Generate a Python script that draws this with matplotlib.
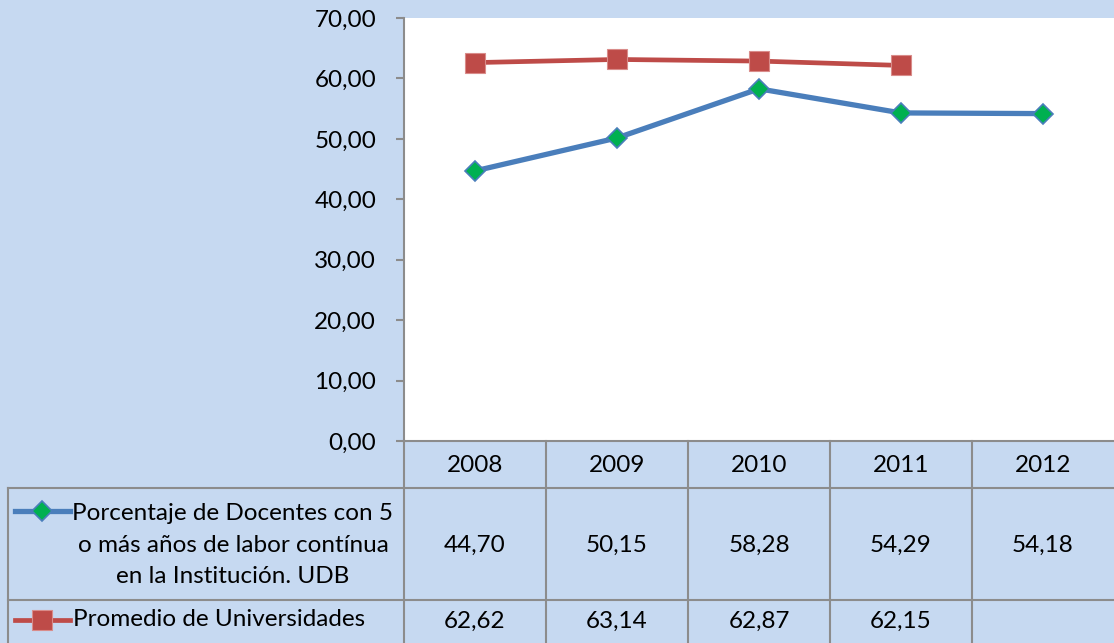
import matplotlib
matplotlib.use("Agg")
import matplotlib.pyplot as plt
import numpy as np

years = ["2008", "2009", "2010", "2011", "2012"]
udb = [44.70, 50.15, 58.28, 54.29, 54.18]
promedio = [62.62, 63.14, 62.87, 62.15, np.nan]
series_names = ["Porcentaje de Docentes con 5\no más años de labor contínua\nen la Institución. UDB",
                "Promedio de Universidades"]
yticks = [0, 10, 20, 30, 40, 50, 60, 70]

plt.rcParams['font.family'] = ['Lato', 'DejaVu Sans']
BG = "#C6D9F1"
GRID = "#8C8C8C"
BLUE = "#4A7EBB"
GREEN = "#00B050"
RED = "#BE4B48"
FS = 17.5

W, H = 1114, 643
fig = plt.figure(figsize=(W / 100, H / 100), dpi=100)
fig.patch.set_facecolor(BG)

x0, x1, ytop, ybot = 404, 1114, 18, 441
ax = fig.add_axes([x0 / W, (H - ybot) / H, (x1 - x0) / W, (ybot - ytop) / H])
ax.set_facecolor("white")

x = np.arange(len(years))
ax.plot(x, udb, color=BLUE, lw=3.8, marker="D", ms=10, mfc=GREEN, mec=BLUE, mew=1.2, zorder=3)
ax.plot(x, promedio, color=RED, lw=3.4, marker="s", ms=14, mfc=RED, mec="#D98C8A", mew=0.8, zorder=3)

ax.set_xlim(-0.5, len(years) - 0.5)
ax.set_ylim(0, 70)
ax.set_yticks(yticks)
ax.set_yticklabels([f"{v:.2f}".replace(".", ",") for v in yticks], fontsize=FS)
ax.tick_params(axis="y", length=6, width=1.5, color=GRID, pad=14)
ax.set_xticks([])
for s in ["top", "right"]:
    ax.spines[s].set_visible(False)
for s in ["left", "bottom"]:
    ax.spines[s].set_color(GRID)
    ax.spines[s].set_linewidth(1.5)

# table helpers: pixel -> axes fraction
def fx(px):
    return (px - x0) / (x1 - x0)

def fy(py):
    return (ybot - py) / (ybot - ytop)

T = ax.transAxes
lk = dict(color=GRID, lw=1.5, transform=T, clip_on=False)
for py in [488, 600]:
    ax.plot([fx(8), fx(1114)], [fy(py), fy(py)], **lk)
ax.plot([fx(8), fx(8)], [fy(488), fy(643)], **lk)
ax.plot([fx(404), fx(404)], [fy(441), fy(643)], **lk)
for i in range(1, len(years)):
    xx = i / len(years)
    ax.plot([xx, xx], [fy(441), fy(643)], **lk)

for i, yr in enumerate(years):
    ax.text((i + 0.5) / len(years), fy(465), yr, transform=T, ha="center", va="center", fontsize=FS)

def fmt(v):
    return "" if np.isnan(v) else f"{v:.2f}".replace(".", ",")

for i in range(len(years)):
    ax.text((i + 0.5) / len(years), fy(545), fmt(udb[i]), transform=T, ha="center", va="center", fontsize=FS)
    ax.text((i + 0.5) / len(years), fy(621), fmt(promedio[i]), transform=T, ha="center", va="center", fontsize=FS)

ax.plot([fx(15), fx(70)], [fy(511), fy(511)], color=BLUE, lw=3.8, transform=T, clip_on=False)
ax.plot([fx(42)], [fy(511)], marker="D", ms=10, mfc=GREEN, mec=BLUE, mew=1.2, transform=T, clip_on=False)
ax.plot([fx(15), fx(70)], [fy(620), fy(620)], color=RED, lw=3.4, transform=T, clip_on=False)
ax.plot([fx(42)], [fy(620)], marker="s", ms=14, mfc=RED, mec="#D98C8A", mew=0.8, transform=T, clip_on=False)

ax.text(fx(233), fy(545), series_names[0], transform=T, ha="center", va="center",
        multialignment="center", fontsize=FS, linespacing=1.6)
ax.text(fx(73), fy(620), series_names[1], transform=T, ha="left", va="center", fontsize=FS)

fig.savefig("out.png", dpi=100, facecolor=BG)
